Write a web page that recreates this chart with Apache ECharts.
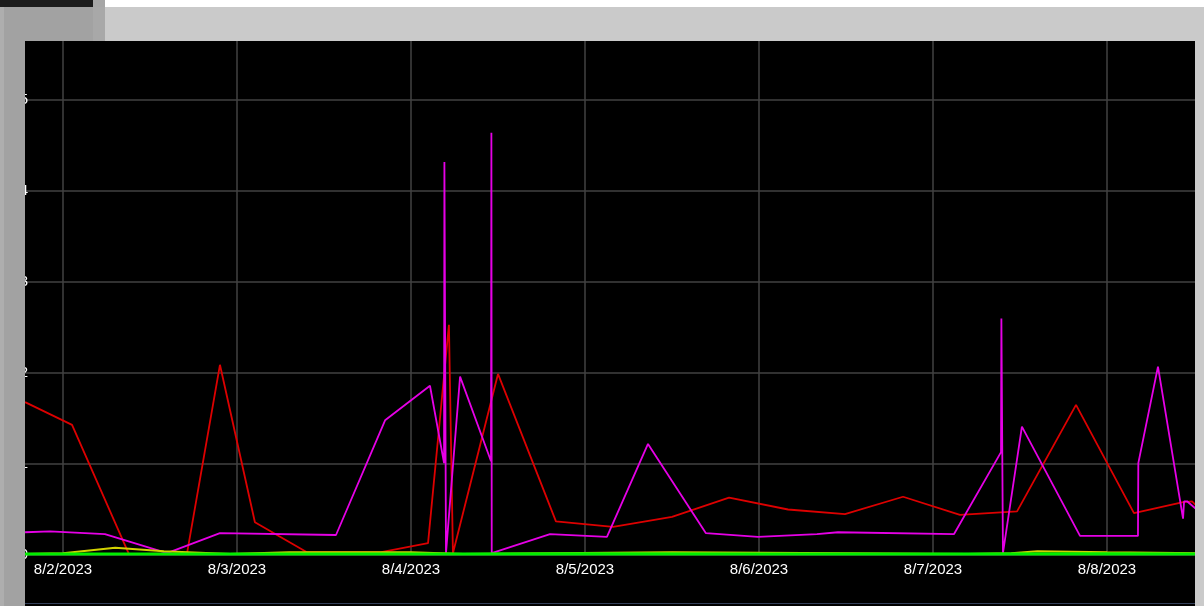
<!DOCTYPE html>
<html>
<head>
<meta charset="utf-8">
<script src="https://cdn.jsdelivr.net/npm/echarts@6/dist/echarts.min.js"></script>
<style>
  html, body { margin: 0; padding: 0; background: #000; }
  #chart { width: 1204px; height: 606px; }
</style>
</head>
<body>
<div id="chart"></div>
<script>
// x = day of August 2023 (decimal), y = value
const dayTicks = [1, 2, 3, 4, 5, 6, 7, 8, 9]

const redDays = [1.782, 2.052, 2.379, 2.713, 2.902, 3.103, 3.402, 3.822, 4.098, 4.218, 4.241, 4.5, 4.833, 5.161, 5.5, 5.828, 6.167, 6.494, 6.828, 7.155, 7.483, 7.822, 8.155, 8.437, 8.489, 8.534]
const redVals = [1.68, 1.43, 0.01, 0.02, 2.09, 0.36, 0.03, 0.03, 0.13, 2.53, 0.02, 1.99, 0.37, 0.31, 0.42, 0.63, 0.5, 0.45, 0.64, 0.44, 0.48, 1.65, 0.46, 0.58, 0.59, 0.5]

const magentaDays = [1.782, 1.925, 2.241, 2.598, 2.902, 3.569, 3.851, 4.109, 4.19, 4.192, 4.201, 4.282, 4.46, 4.462, 4.464, 4.799, 5.126, 5.362, 5.695, 5.994, 6.333, 6.454, 7.121, 7.391, 7.393, 7.402, 7.511, 7.845, 8.178, 8.18, 8.293, 8.437, 8.443, 8.46, 8.534]
const magentaVals = [0.25, 0.26, 0.23, 0.02, 0.24, 0.22, 1.48, 1.86, 1.01, 4.32, 0.02, 1.96, 1.03, 4.64, 0.02, 0.23, 0.2, 1.22, 0.24, 0.2, 0.23, 0.25, 0.23, 1.13, 2.6, 0.02, 1.41, 0.21, 0.21, 1.01, 2.07, 0.4, 0.59, 0.59, 0.47]

const yellowDays = [1.782, 2.0, 2.3, 2.58, 2.96, 3.3, 4.0, 4.3, 4.8, 5.5, 6.5, 7.2, 7.45, 7.6, 8.0, 8.534]
const yellowVals = [0.01, 0.02, 0.08, 0.04, 0.01, 0.03, 0.03, 0.01, 0.02, 0.03, 0.02, 0.01, 0.02, 0.04, 0.03, 0.02]

const greenDays = [1.782, 3.0, 4.2, 5.0, 6.0, 7.0, 8.0, 8.534]
const greenVals = [0.01, 0.01, 0.01, 0.015, 0.01, 0.01, 0.015, 0.01]

function zip(xs, ys) {
    return xs.map((x, i) => [x, ys[i]])
}

function line(name, color, width, xs, ys) {
    return {
        name: name,
        type: 'line',
        data: zip(xs, ys),
        showSymbol: false,
        symbol: 'none',
        lineStyle: { color: color, width: width },
        animation: false
    }
}

const labelFont = "'Liberation Sans', Arial, sans-serif"

// gray window frame around the black plot (drawn over the grid edges)
const frame = [
    { x: 0, y: 0, w: 93, h: 7, c: '#1c1c1c' },
    { x: 93, y: 0, w: 12, h: 7, c: '#a6a6a6' },
    { x: 105, y: 0, w: 1099, h: 7, c: '#ffffff' },
    { x: 0, y: 7, w: 1204, h: 34, c: '#cacaca' },
    { x: 0, y: 7, w: 93, h: 34, c: '#a2a2a2' },
    { x: 93, y: 7, w: 12, h: 34, c: '#a8a8a8' },
    { x: 0, y: 41, w: 25, h: 565, c: '#a2a2a2' },
    { x: 0, y: 7, w: 4, h: 599, c: '#aeaeae' },
    { x: 1195, y: 41, w: 9, h: 565, c: '#cacaca' },
    { x: 25, y: 603, w: 1170, h: 1, c: '#34405a' }
]

const gridLine = { show: true, lineStyle: { color: '#424242', width: 1.5 } }

const chart = echarts.init(document.getElementById('chart'))
chart.setOption({
    backgroundColor: '#000',
    animation: false,
    // grid runs past the window edges; the frame hides the overflow
    grid: { left: -111, right: -77, top: 9, bottom: 51, containLabel: false, outerBoundsMode: 'none' },
    xAxis: {
        type: 'value',
        min: dayTicks[0],
        max: dayTicks[dayTicks.length - 1],
        interval: 1,
        axisLine: { show: false },
        axisTick: { show: false },
        splitLine: gridLine,
        axisLabel: {
            color: '#ffffff',
            fontSize: 15,
            fontFamily: labelFont,
            margin: 7,
            formatter: function (v) { return '8/' + v + '/2023' }
        }
    },
    yAxis: {
        type: 'value',
        min: 0,
        max: 6,
        interval: 1,
        offset: -136,
        axisLine: { show: false },
        axisTick: { show: false },
        splitLine: gridLine,
        axisLabel: { color: '#ffffff', fontSize: 15, fontFamily: labelFont, margin: -3 }
    },
    series: [
        line('red', '#dd0000', 1.8, redDays, redVals),
        line('magenta', '#e600e6', 1.8, magentaDays, magentaVals),
        line('yellow', '#d2d200', 2, yellowDays, yellowVals),
        line('green', '#00ee00', 3, greenDays, greenVals)
    ],
    graphic: frame.map(r => ({
        type: 'rect',
        z: 100,
        silent: true,
        shape: { x: r.x, y: r.y, width: r.w, height: r.h },
        style: { fill: r.c }
    }))
})
</script>
</body>
</html>
